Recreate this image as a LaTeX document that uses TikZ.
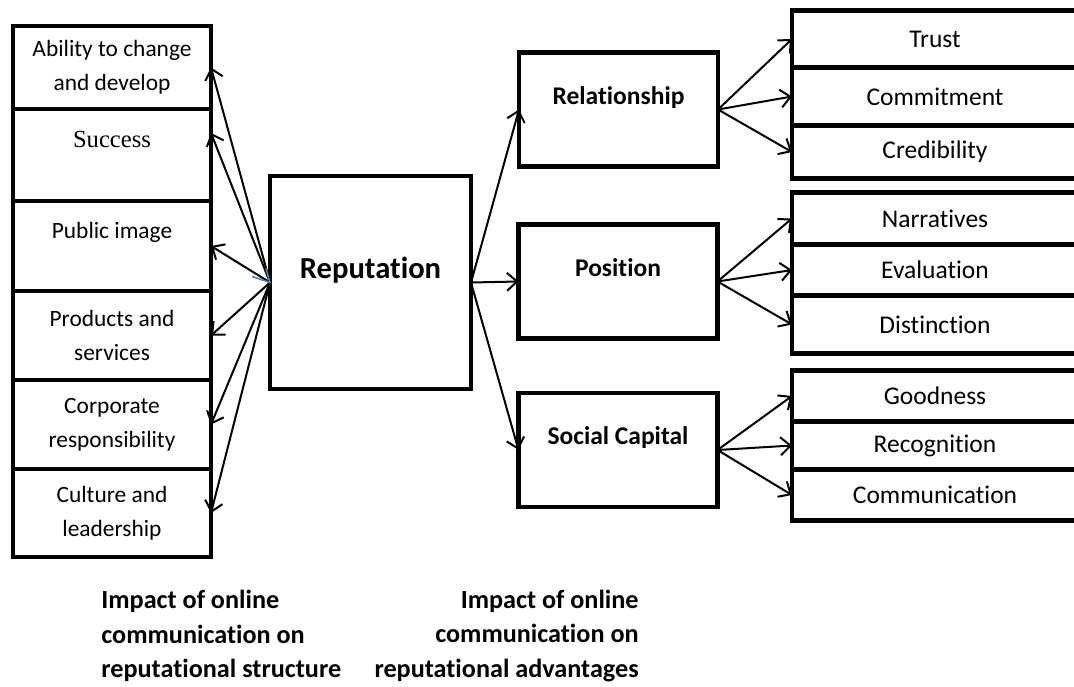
\documentclass[tikz,border=0pt]{standalone}
\usepackage{fontspec}
\setmainfont{Carlito}[Ligatures=NoCommon]
\newfontfamily\successfont{Liberation Serif}
\usetikzlibrary{positioning,arrows.meta}
\definecolor{wordblue}{HTML}{4F81BD}

\begin{document}
\begin{tikzpicture}[x=0.5pt,y=-0.5pt,
		box/.style={draw,line width=2.4pt,outer sep=0pt,inner sep=2pt,align=center},
		leftbox/.style={box,minimum width=99pt,font=\fontsize{11.7}{17}\selectfont},
		midbox/.style={box,minimum width=99.5pt,minimum height=57pt,text depth=14pt,font=\bfseries\fontsize{12.75}{15.3}\selectfont},
		itembox/.style={box,minimum width=143pt,font=\fontsize{12.75}{15.3}\selectfont},
		link/.style={line width=1pt,-{Straight Barb[length=5pt,width=9pt]}},
		caption/.style={inner sep=0pt,font=\bfseries\fontsize{13.1}{17.3}\selectfont}]
	\useasboundingbox (0,0) rectangle (1074,686);
	\clip (0,0) rectangle (1074,686);
	% structure column
	\node[leftbox,minimum height=41.5pt,anchor=north] (abil) at (112,26) {Ability to change\\and develop};
	\node[leftbox,minimum height=46pt,text depth=16pt,below=0pt of abil] (succ) {\successfont\fontsize{12.3}{15}\selectfont Success};
	\node[leftbox,minimum height=45pt,text depth=16pt,below=0pt of succ] (pubimg) {Public image};
	\node[leftbox,minimum height=44.5pt,below=0pt of pubimg] (prod) {Products and\\services};
	\node[leftbox,minimum height=44.5pt,below=0pt of prod] (corp) {Corporate\\responsibility};
	\node[leftbox,minimum height=44pt,below=0pt of corp] (cult) {Culture and\\leadership};
	% centre
	\node[box,minimum width=100.5pt,minimum height=106.5pt,text depth=15pt,font=\bfseries\fontsize{15.3}{18}\selectfont] (rep) at (370.5,282.5) {Reputation};
	\node[midbox] (rel) at (618.5,109.5) {Relationship};
	\node[midbox] (pos) at (618,281.5) {Position};
	\node[midbox] (soc) at (618,450) {Social Capital};
	% advantages
	\node[itembox,minimum height=28.5pt,anchor=north] (trust) at (935,10.5) {Trust};
	\node[itembox,minimum height=29pt,below=0pt of trust] (commit) {Commitment};
	\node[itembox,minimum height=26.5pt,below=0pt of commit] (cred) {Credibility};
	\node[itembox,minimum height=26pt,anchor=north] (narr) at (935,192.5) {Narratives};
	\node[itembox,minimum height=25.5pt,below=0pt of narr] (eval) {Evaluation};
	\node[itembox,minimum height=29pt,below=0pt of eval] (dist) {Distinction};
	\node[itembox,minimum height=25.5pt,anchor=north] (good) at (935,370.5) {Goodness};
	\node[itembox,minimum height=24pt,below=0pt of good] (recog) {Recognition};
	\node[itembox,minimum height=25.5pt,below=0pt of recog] (comm) {Communication};
	% arrows
	\foreach \t in {abil,pubimg,prod,corp,cult}
		\draw[link] (rep.west) -- (\t.east);
	\draw[link] (rep.west) -- ([yshift=11pt]succ.east);
	\draw[wordblue,line width=0.8pt] ([xshift=-9pt,yshift=3pt]rep.west) -- (rep.west) -- ([xshift=-2pt,yshift=7pt]rep.west);
	\foreach \t in {rel,pos,soc}
		\draw[link] (rep.east) -- (\t.west);
	\foreach \t in {trust,commit,cred}
		\draw[link] (rel.east) -- (\t.west);
	\foreach \t in {narr,eval,dist}
		\draw[link] (pos.east) -- (\t.west);
	\foreach \t in {good,recog,comm}
		\draw[link] (soc.east) -- (\t.west);
	% captions
	\node[caption,anchor=west,align=left] (capl) at (101,636) {Impact of online\\communication on\\reputational structure};
	\node[caption,anchor=east,align=right] (capr) at (639,636) {Impact of online\\communication on\\reputational advantages};
\end{tikzpicture}
\end{document}
